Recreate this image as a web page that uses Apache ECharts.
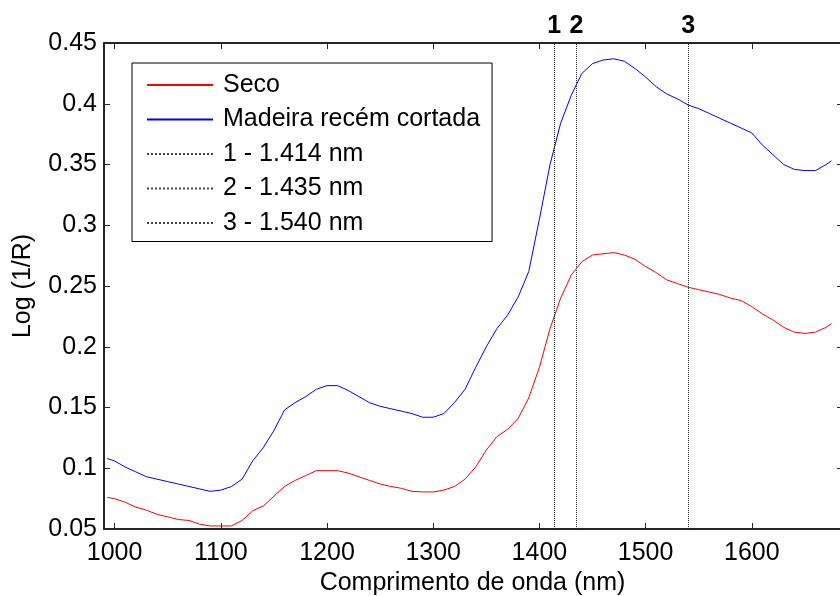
<!DOCTYPE html>
<html>
<head>
<meta charset="utf-8">
<script src="https://cdn.jsdelivr.net/npm/echarts@6/dist/echarts.min.js"></script>
<style>
  html, body { margin: 0; padding: 0; background: #fff; }
  #chart { width: 840px; height: 596px; }
</style>
</head>
<body>
<div id="chart"></div>
<script>
// Wavelength grid (nm)
const wavelengths = [993, 1000, 1010, 1020, 1030, 1040, 1050, 1060, 1070, 1080, 1090,
  1100, 1110, 1120, 1130, 1140, 1150, 1160, 1170, 1180, 1190,
  1200, 1210, 1220, 1230, 1240, 1250, 1260, 1270, 1280, 1290,
  1300, 1310, 1320, 1330, 1340, 1350, 1360, 1370, 1380, 1390,
  1400, 1410, 1420, 1430, 1440, 1450, 1460, 1470, 1480, 1490,
  1500, 1510, 1520, 1530, 1540, 1550, 1560, 1570, 1580, 1590,
  1600, 1610, 1620, 1630, 1640, 1650, 1660, 1670, 1675];

// Log(1/R) – dry wood
const seco = [0.076, 0.075, 0.072, 0.068, 0.0655, 0.062, 0.060, 0.0578, 0.057, 0.054, 0.0525,
  0.0525, 0.0525, 0.057, 0.065, 0.069, 0.077, 0.085, 0.090, 0.094, 0.098,
  0.098, 0.098, 0.096, 0.093, 0.090, 0.087, 0.085, 0.0835, 0.081, 0.0805,
  0.0805, 0.082, 0.085, 0.091, 0.101, 0.115, 0.126, 0.132, 0.141, 0.158,
  0.183, 0.215, 0.240, 0.259, 0.270, 0.2755, 0.2765, 0.2775, 0.2755, 0.272,
  0.266, 0.261, 0.255, 0.252, 0.249, 0.247, 0.245, 0.243, 0.240, 0.238,
  0.233, 0.227, 0.222, 0.216, 0.212, 0.211, 0.212, 0.216, 0.219];

// Log(1/R) – freshly cut wood
const madeira = [0.108, 0.106, 0.101, 0.097, 0.093, 0.091, 0.089, 0.087, 0.085, 0.083, 0.081,
  0.082, 0.085, 0.091, 0.106, 0.117, 0.131, 0.148, 0.154, 0.159, 0.165,
  0.168, 0.168, 0.164, 0.159, 0.154, 0.151, 0.149, 0.147, 0.145, 0.142,
  0.142, 0.145, 0.154, 0.165, 0.183, 0.200, 0.215, 0.226, 0.241, 0.262,
  0.305, 0.350, 0.384, 0.407, 0.425, 0.433, 0.436, 0.437, 0.435, 0.429,
  0.422, 0.414, 0.408, 0.404, 0.399, 0.396, 0.392, 0.388, 0.384, 0.380,
  0.376, 0.366, 0.358, 0.350, 0.346, 0.345, 0.345, 0.350, 0.353];

// Reference wavelengths marked with vertical lines
const refWavelengths = [1414, 1435, 1540];
const refTags = ['1', '2', '3'];
const refNames = ['1 - 1.414 nm', '2 - 1.435 nm', '3 - 1.540 nm'];

// Axis ticks
const xTicks = [1000, 1100, 1200, 1300, 1400, 1500, 1600];
const xRange = [990, 1684];
const yRange = [0.05, 0.45];

const FONT = "'Liberation Sans', Arial, sans-serif";
const FS = 25;
const AXIS_COLOR = '#262626';

const chart = echarts.init(document.getElementById('chart'), null, { renderer: 'canvas' });

const pairs = vals => wavelengths.map((w, i) => [w, vals[i]]);

const refSeries = refWavelengths.map((w, i) => ({
  name: refNames[i],
  type: 'line',
  data: [],
  symbol: 'none',
  lineStyle: { color: '#444', width: 1, type: 'dotted' },
  itemStyle: { color: '#444' },
  markLine: {
    silent: true,
    symbol: 'none',
    animation: false,
    lineStyle: { color: '#222', width: 1, type: 'dotted' },
    label: {
      show: true, position: 'end', distance: 4, formatter: refTags[i],
      fontFamily: FONT, fontSize: FS, fontWeight: 'bold', color: '#000'
    },
    data: [{ xAxis: w }]
  }
}));

const option = {
  animation: false,
  backgroundColor: '#fff',
  textStyle: { fontFamily: FONT },
  grid: { left: 104, right: -1, top: 43, bottom: 67, containLabel: false, outerBoundsMode: 'none' },
  xAxis: [{
    type: 'value', min: xRange[0], max: xRange[1],
    name: 'Comprimento de onda (nm)', nameLocation: 'middle', nameGap: 42,
    nameTextStyle: { fontFamily: FONT, fontSize: FS, color: '#000' },
    axisLine: { show: true, onZero: false, lineStyle: { color: AXIS_COLOR, width: 2 } },
    axisTick: { show: true, inside: true, length: 6, customValues: xTicks, lineStyle: { color: AXIS_COLOR, width: 1 } },
    axisLabel: { show: true, customValues: xTicks, margin: 12, fontFamily: FONT, fontSize: FS, color: '#000',
      formatter: v => String(v) },
    splitLine: { show: false }
  }, {
    type: 'value', position: 'top', min: xRange[0], max: xRange[1],
    axisLine: { show: true, onZero: false, lineStyle: { color: AXIS_COLOR, width: 2 } },
    axisTick: { show: true, inside: true, length: 6, customValues: xTicks, lineStyle: { color: AXIS_COLOR, width: 1 } },
    axisLabel: { show: false },
    splitLine: { show: false }
  }],
  yAxis: [{
    type: 'value', min: yRange[0], max: yRange[1], interval: 0.05,
    name: 'Log (1/R)', nameLocation: 'middle', nameGap: 68, nameRotate: 90,
    nameTextStyle: { fontFamily: FONT, fontSize: FS, color: '#000' },
    axisLine: { show: true, onZero: false, lineStyle: { color: AXIS_COLOR, width: 2 } },
    axisTick: { show: true, inside: true, length: 6, lineStyle: { color: AXIS_COLOR, width: 1 } },
    axisLabel: { margin: 7, fontFamily: FONT, fontSize: FS, color: '#000',
      formatter: v => String(+v.toFixed(2)) },
    splitLine: { show: false }
  }, {
    type: 'value', position: 'right', min: yRange[0], max: yRange[1], interval: 0.05,
    axisLine: { show: true, onZero: false, lineStyle: { color: AXIS_COLOR, width: 2 } },
    axisTick: { show: true, inside: true, length: 4, lineStyle: { color: AXIS_COLOR, width: 1 } },
    axisLabel: { show: false },
    splitLine: { show: false }
  }],
  legend: {
    left: 132, top: 63,
    orient: 'vertical',
    backgroundColor: '#fff',
    borderColor: '#000', borderWidth: 1, borderRadius: 0,
    padding: [9.5, 12, 6, 14],
    itemWidth: 66, itemHeight: 25, itemGap: 9.5,
    itemStyle: { opacity: 0 },
    textStyle: { fontFamily: FONT, fontSize: FS, color: '#000', padding: [0, 0, 0, 5], lineHeight: 25 },
    data: ['Seco', 'Madeira recém cortada'].concat(refNames)
  },
  series: [{
    name: 'Seco', type: 'line', data: pairs(seco), symbol: 'none',
    lineStyle: { color: '#ff0000', width: 1 }, itemStyle: { color: '#ff0000' }
  }, {
    name: 'Madeira recém cortada', type: 'line', data: pairs(madeira), symbol: 'none',
    lineStyle: { color: '#0000ff', width: 1 }, itemStyle: { color: '#0000ff' }
  }].concat(refSeries)
};

chart.setOption(option);
</script>
</body>
</html>
